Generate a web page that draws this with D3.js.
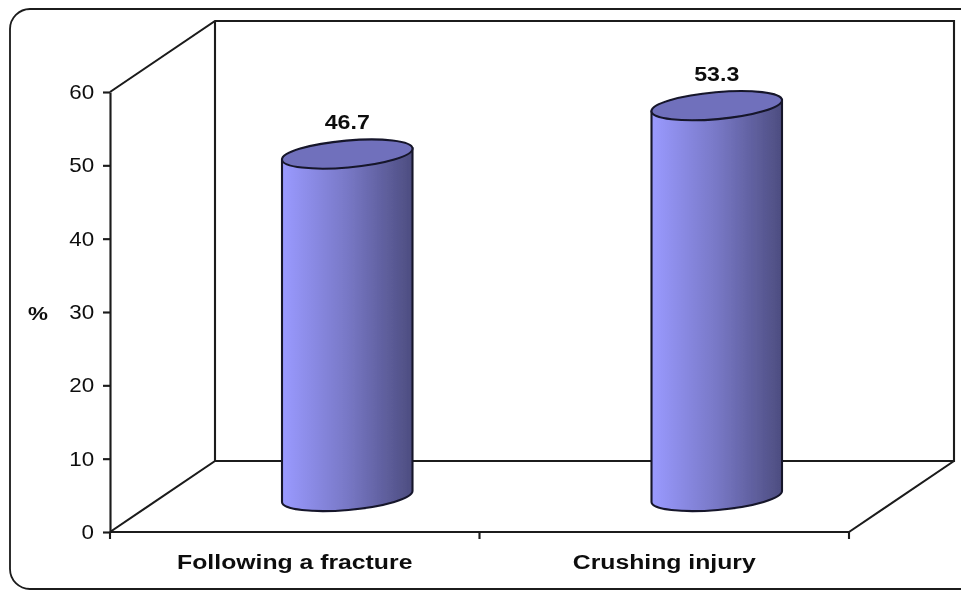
<!DOCTYPE html>
<html lang="en">
<head>
    <meta charset="UTF-8">
    <title>Chart</title>
    <style>
        html,body{
            margin: 0;
            padding: 0;
            background: #fff;
            overflow: hidden;
        }
        text{
            font-family: "Liberation Sans", Arial, sans-serif;
            fill: #111;
        }
    </style>
</head>
<body>
<div id="container"></div>
<script src="https://d3js.org/d3.v7.min.js"></script>
<script>
    const categories = ["Following a fracture", "Crushing injury"]
    const values = [46.7, 53.3]
    const yTicks = [0, 10, 20, 30, 40, 50, 60]

    const [width, height] = [961, 590]
    const depthX = 105, depthY = 71   // offset of the back wall from the front axes
    const ink = "#1a1a1a"
    const stretch = 1.18   // the source picture is wider than it is tall, text included

    const x = d3.scaleBand().domain(categories).range([110, 849])
    const y = d3.scaleLinear().domain([0, 60]).range([532, 92])

    const svg = d3.select("#container").append("svg")
        .attr("width", width)
        .attr("height", height)

    const defs = svg.append("defs")
    const grad = defs.append("linearGradient").attr("id", "cyl")
    grad.append("stop").attr("offset", "0%").attr("stop-color", "#9a9aff")
    grad.append("stop").attr("offset", "50%").attr("stop-color", "#7878c6")
    grad.append("stop").attr("offset", "100%").attr("stop-color", "#4d4d80")
    defs.append("filter").attr("id", "soft")
        .append("feGaussianBlur").attr("stdDeviation", 0.45)

    const g = svg.append("g").attr("filter", "url(#soft)")

    // outer frame, runs off the right side of the picture
    g.append("rect")
        .attr("x", 10).attr("y", 9)
        .attr("width", 975).attr("height", 580)
        .attr("rx", 20)
        .attr("fill", "none")
        .attr("stroke", ink)
        .attr("stroke-width", 1.8)

    const [x0, x1] = x.range()
    const [y0, y1] = y.range()

    // back wall and floor
    const frame = d3.path()
    frame.moveTo(x0, y1)
    frame.lineTo(x0 + depthX, y1 - depthY)
    frame.lineTo(x1 + depthX, y1 - depthY)
    frame.lineTo(x1 + depthX, y0 - depthY)
    frame.lineTo(x0 + depthX, y0 - depthY)
    frame.lineTo(x0 + depthX, y1 - depthY)
    frame.moveTo(x0, y0)
    frame.lineTo(x0 + depthX, y0 - depthY)
    frame.moveTo(x1, y0)
    frame.lineTo(x1 + depthX, y0 - depthY)
    g.append("path").attr("d", frame.toString())
        .attr("fill", "none").attr("stroke", ink).attr("stroke-width", 2.1)

    // y axis
    const yAxis = g.append("g")
        .attr("transform", `translate(${x0},0)`)
        .call(d3.axisLeft(y).tickValues(yTicks).tickSize(7).tickSizeOuter(0).tickPadding(9))
    yAxis.selectAll("path,line").attr("stroke", ink).attr("stroke-width", 2.1)
    yAxis.selectAll("text")
        .attr("font-size", 20)
        .attr("transform", "translate(2,0) scale(1.12,1)")
        .style("font-family", '"Liberation Sans", Arial, sans-serif')
        .attr("fill", "#111")

    // x axis, ticks sit on the category boundaries
    const xAxis = g.append("g")
        .attr("transform", `translate(0,${y0})`)
    xAxis.append("line").attr("x1", x0).attr("x2", x1)
        .attr("stroke", ink).attr("stroke-width", 2.1)
    xAxis.selectAll("line.tick")
        .data([x0, x(categories[1]), x1])
        .join("line")
        .attr("class", "tick")
        .attr("x1", d => d).attr("x2", d => d)
        .attr("y1", 0).attr("y2", 7)
        .attr("stroke", ink).attr("stroke-width", 2.1)
    xAxis.selectAll("text")
        .data(categories)
        .join("text")
        .attr("transform", d => `translate(${x(d) + x.bandwidth() / 2},37) scale(${stretch},1)`)
        .attr("text-anchor", "middle")
        .attr("font-size", 21)
        .attr("font-weight", "bold")
        .text(d => d)

    g.append("text")
        .attr("transform", `translate(38,320) scale(${stretch},1)`)
        .attr("text-anchor", "middle")
        .attr("font-size", 19)
        .attr("font-weight", "bold")
        .text("%")

    // cylinders stand half way into the floor
    const rx = 65.5, ry = 13.5, tilt = -5
    const tiltX = rx * Math.cos(tilt * Math.PI / 180), tiltY = rx * Math.sin(tilt * Math.PI / 180)
    const bars = g.selectAll("g.bar")
        .data(categories.map((c, i) => ({c, v: values[i]})))
        .join("g")
        .attr("class", "bar")
    const cx = d => x(d.c) + x.bandwidth() / 2 + depthX / 2
    const topY = d => y(d.v) - depthY / 2
    const baseY = d => y(0) - depthY / 2
    const edge = "#15152a"

    bars.append("path")
        .attr("d", d => `M${cx(d) - tiltX},${topY(d) - tiltY}`
            + `L${cx(d) - tiltX},${baseY(d) - tiltY}`
            + `A${rx},${ry} ${tilt} 0 0 ${cx(d) + tiltX},${baseY(d) + tiltY}`
            + `L${cx(d) + tiltX},${topY(d) + tiltY}Z`)
        .attr("fill", "url(#cyl)")
        .attr("stroke", edge)
        .attr("stroke-width", 2.1)
    bars.append("ellipse")
        .attr("rx", rx).attr("ry", ry)
        .attr("transform", d => `translate(${cx(d)},${topY(d)}) rotate(${tilt})`)
        .attr("fill", "#7070bc")
        .attr("stroke", edge)
        .attr("stroke-width", 2.1)
    bars.append("text")
        .attr("transform", d => `translate(${cx(d)},${topY(d) - 25}) scale(1.13,1)`)
        .attr("text-anchor", "middle")
        .attr("font-size", 20.5)
        .attr("font-weight", "bold")
        .text(d => d.v)
</script>
</body>
</html>
